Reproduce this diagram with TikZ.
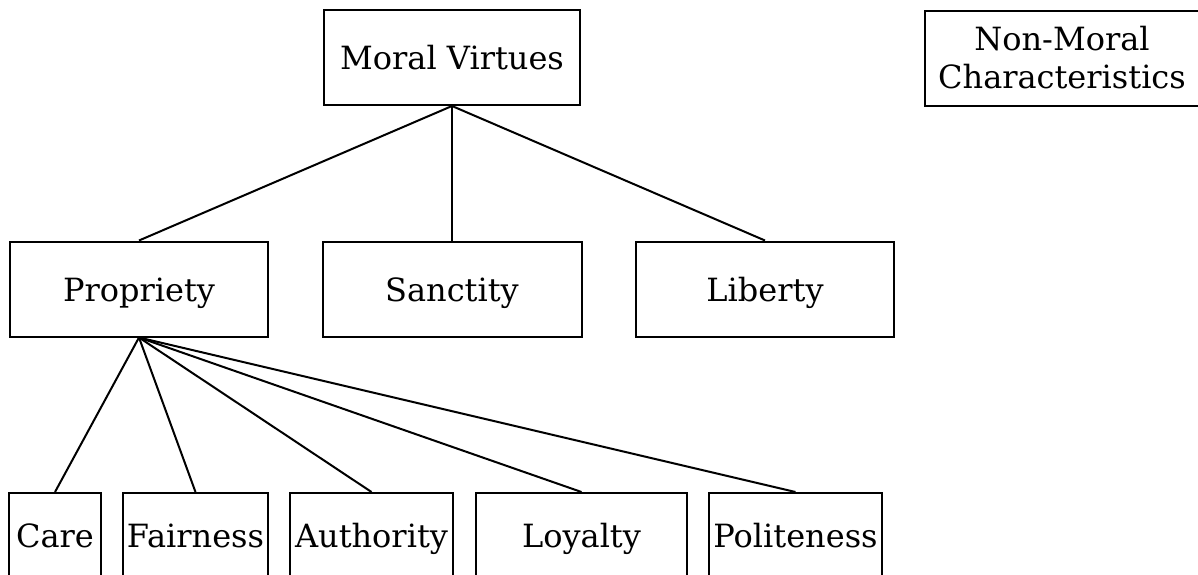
\documentclass[tikz,border=0pt]{standalone}
\usepackage{fontspec}
\setmainfont{DejaVu Serif}
\usepackage{tikz}

\begin{document}
\begin{tikzpicture}[
    x=0.5pt, y=-0.5pt, % one unit is one pixel of the original
    box/.style={draw, line width=1pt, minimum height=47.5pt, inner sep=0pt,
                align=center, font=\fontsize{16}{19}\selectfont},
    word/.style={box, text height=12pt, text depth=0pt},
    leaf/.style={word, minimum height=42pt},
    link/.style={line width=1pt}
]

    % Frame of the picture
    \clip (0,0) rectangle (1198,574);

    % Top level
    \node[word, minimum width=128pt]  (virtues)  at (452,57.5) {Moral Virtues};
    \node[box, minimum width=137pt]   (nonmoral) at (1062,58) {Non-Moral\\Characteristics};

    % Second level
    \node[word, minimum width=129pt]   (propriety) at (139,289) {Propriety};
    \node[word, minimum width=129.5pt] (sanctity)  at (452,289) {Sanctity};
    \node[word, minimum width=129pt]   (liberty)   at (765,289) {Liberty};

    % Third level (cut off at the bottom)
    \node[leaf, minimum width=46pt]    (care)       at (55,535)    {Care};
    \node[leaf, minimum width=72.5pt]  (fairness)   at (195.5,535) {Fairness};
    \node[leaf, minimum width=81.5pt]  (authority)  at (371.5,535) {Authority};
    \node[leaf, minimum width=105.5pt] (loyalty)    at (581.5,535) {Loyalty};
    \node[leaf, minimum width=86.5pt]  (politeness) at (795.5,535) {Politeness};

    % Links from the root
    \foreach \child in {propriety, sanctity, liberty}
        \draw[link] (virtues.south) -- (\child.north);

    % Links below Propriety
    \foreach \child in {care, fairness, authority, loyalty, politeness}
        \draw[link] (propriety.south) -- (\child.north);

\end{tikzpicture}
\end{document}
